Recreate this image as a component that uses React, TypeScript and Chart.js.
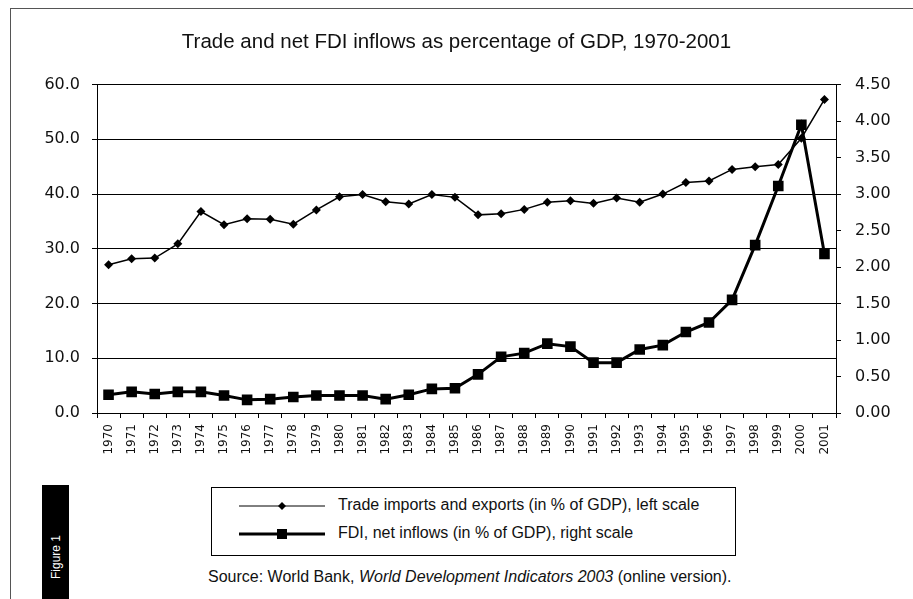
import { useEffect, useRef } from "react";
import { Chart, registerables } from "chart.js";

Chart.register(...registerables);

const years: string[] = [
  "1970", "1971", "1972", "1973", "1974", "1975", "1976", "1977", "1978", "1979",
  "1980", "1981", "1982", "1983", "1984", "1985", "1986", "1987", "1988", "1989",
  "1990", "1991", "1992", "1993", "1994", "1995", "1996", "1997", "1998", "1999",
  "2000", "2001",
];

// Trade imports and exports, % of GDP (left scale)
const tradePct: number[] = [
  27.1, 28.2, 28.3, 30.9, 36.8, 34.4, 35.5, 35.4, 34.5, 37.1,
  39.5, 39.9, 38.6, 38.2, 39.9, 39.4, 36.2, 36.4, 37.2, 38.5,
  38.8, 38.3, 39.3, 38.5, 40.0, 42.1, 42.4, 44.5, 45.0, 45.4,
  50.2, 57.3,
];

// FDI net inflows, % of GDP (right scale)
const fdiPct: number[] = [
  0.25, 0.29, 0.26, 0.29, 0.29, 0.24, 0.18, 0.19, 0.22, 0.24,
  0.24, 0.24, 0.19, 0.25, 0.33, 0.34, 0.53, 0.77, 0.82, 0.95,
  0.91, 0.69, 0.69, 0.87, 0.93, 1.11, 1.24, 1.55, 2.30, 3.11,
  3.95, 2.18,
];

const leftMax = 60;
const leftStep = 10;
const rightMax = 4.5;
const rightStep = 0.5;

const titleText = "Trade and net FDI inflows as percentage of GDP, 1970-2001";
const tradeLabel = "Trade imports and exports (in % of GDP), left scale";
const fdiLabel = "FDI, net inflows (in % of GDP), right scale";

const tickFont = { family: "'DejaVu Sans', Verdana, sans-serif", size: 16 };

export default function App() {
  const canvasRef = useRef<HTMLCanvasElement | null>(null);

  useEffect(() => {
    if (!canvasRef.current) return;
    const chart = new Chart(canvasRef.current, {
      type: "line",
      data: {
        labels: years,
        datasets: [
          {
            label: tradeLabel,
            data: tradePct,
            yAxisID: "yLeft",
            borderColor: "#000",
            backgroundColor: "#000",
            borderWidth: 1.5,
            pointStyle: "rectRot",
            pointRadius: 4.5,
            pointBorderWidth: 0,
            tension: 0,
          },
          {
            label: fdiLabel,
            data: fdiPct,
            yAxisID: "yRight",
            borderColor: "#000",
            backgroundColor: "#000",
            borderWidth: 3,
            pointStyle: "rect",
            pointRadius: 7.5,
            pointBorderWidth: 0,
            tension: 0,
          },
        ],
      },
      options: {
        animation: false,
        responsive: false,
        layout: { padding: { left: 0, right: 0, top: 0, bottom: 0 } },
        plugins: {
          legend: { display: false },
          tooltip: { enabled: false },
          title: {
            display: true,
            text: titleText,
            color: "#111",
            font: { family: "'Liberation Sans', Arial, sans-serif", size: 20.5, weight: "normal" },
            padding: { top: 30, bottom: 30 },
          },
        },
        scales: {
          x: {
            type: "category",
            offset: true,
            grid: {
              display: true,
              drawOnChartArea: false,
              offset: true,
              color: "#000",
              tickLength: 5,
            },
            border: { display: true, color: "#000", width: 1 },
            ticks: {
              autoSkip: false,
              minRotation: 90,
              maxRotation: 90,
              color: "#111",
              font: { family: "'DejaVu Sans', Verdana, sans-serif", size: 12 },
              padding: 6,
            },
            afterFit: (scale: any) => {
              scale.height = 50;
            },
          },
          yLeft: {
            type: "linear",
            position: "left",
            min: 0,
            max: leftMax,
            ticks: {
              stepSize: leftStep,
              color: "#111",
              font: tickFont,
              padding: 12,
              callback: (v: any) => Number(v).toFixed(1),
            },
            grid: { color: "#000", lineWidth: 1, tickLength: 5 },
            border: { display: true, color: "#000", width: 1 },
            afterFit: (scale: any) => {
              scale.width = 97;
            },
          },
          yRight: {
            type: "linear",
            position: "right",
            min: 0,
            max: rightMax,
            ticks: {
              stepSize: rightStep,
              color: "#111",
              font: tickFont,
              padding: 14,
              callback: (v: any) => Number(v).toFixed(2),
            },
            grid: { drawOnChartArea: false, color: "#000", tickLength: 5 },
            border: { display: true, color: "#000", width: 1 },
            afterFit: (scale: any) => {
              scale.width = 77;
            },
          },
        },
      },
    });
    return () => chart.destroy();
  }, []);

  const textFont = "'Liberation Sans', Arial, sans-serif";

  return (
    <div
      style={{
        position: "absolute",
        left: 0,
        top: 0,
        width: 913,
        height: 599,
        background: "#fff",
        overflow: "hidden",
      }}
    >
      <div
        style={{
          position: "absolute",
          left: 10,
          top: 8,
          width: 903,
          height: 591,
          borderTop: "1px solid #555",
          borderLeft: "1px solid #555",
          boxSizing: "border-box",
        }}
      />
      <canvas
        ref={canvasRef}
        width={913}
        height={463}
        style={{ position: "absolute", left: 0, top: 0, width: 913, height: 463 }}
      />
      <div
        style={{
          position: "absolute",
          left: 211,
          top: 487,
          width: 525,
          height: 69,
          border: "1px solid #000",
          boxSizing: "border-box",
          fontFamily: textFont,
          fontSize: 16,
          color: "#111",
        }}
      >
        <svg
          width={90}
          height={67}
          style={{ position: "absolute", left: 27, top: 0 }}
        >
          <line x1={0} y1={18} x2={86} y2={18} stroke="#000" strokeWidth={1} />
          <polygon points="43,14 47,18 43,22 39,18" fill="#000" />
          <line x1={0} y1={46} x2={86} y2={46} stroke="#000" strokeWidth={3} />
          <rect x={38} y={41} width={10} height={10} fill="#000" />
        </svg>
        <div style={{ position: "absolute", left: 126, top: 8, whiteSpace: "nowrap" }}>
          {tradeLabel}
        </div>
        <div style={{ position: "absolute", left: 126, top: 36, whiteSpace: "nowrap" }}>
          {fdiLabel}
        </div>
      </div>
      <div
        style={{
          position: "absolute",
          left: 208,
          top: 568,
          whiteSpace: "nowrap",
          fontFamily: textFont,
          fontSize: 16,
          color: "#111",
        }}
      >
        Source: World Bank, <i>World Development Indicators 2003</i> (online version).
      </div>
      <div
        style={{
          position: "absolute",
          left: 42,
          top: 485,
          width: 27,
          height: 114,
          background: "#000",
        }}
      >
        <div
          style={{
            position: "absolute",
            left: 7,
            bottom: 6,
            transform: "rotate(-90deg)",
            transformOrigin: "0 0",
            whiteSpace: "nowrap",
            color: "#fff",
            fontFamily: textFont,
            fontSize: 12,
            lineHeight: "14px",
          }}
        >
          Figure 1
        </div>
      </div>
    </div>
  );
}
